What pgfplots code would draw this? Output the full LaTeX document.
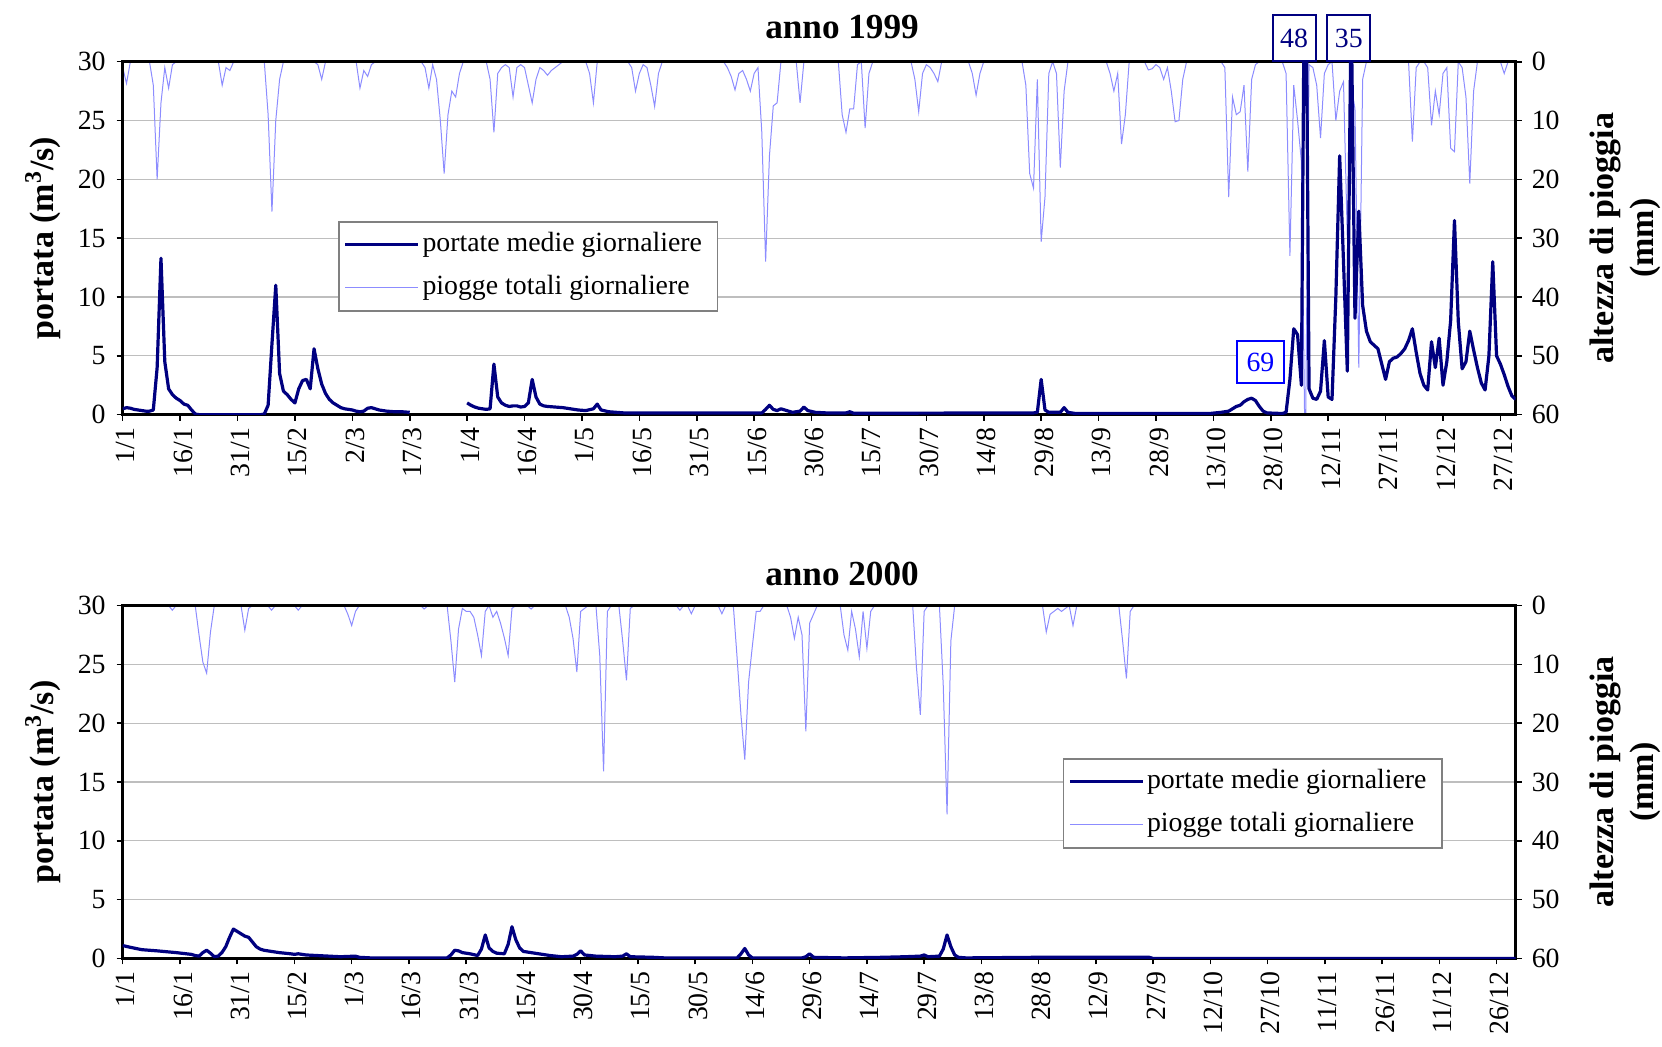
\documentclass[border=0pt]{standalone}
\usepackage{fontspec}
\setmainfont{Liberation Serif}
\usepackage{pgfplots}
\pgfplotsset{compat=1.18}

\definecolor{navy}{RGB}{0,0,128}
\definecolor{rain}{RGB}{140,140,255}
\definecolor{gridc}{RGB}{190,190,190}

\newcommand{\tickfont}{\fontsize{13.9}{16}\selectfont}
\newcommand{\labfont}{\bfseries\fontsize{17}{20}\selectfont}
\newcommand{\titfont}{\bfseries\fontsize{17.6}{20}\selectfont}

\pgfplotsset{
  base/.style={
    scale only axis, width=696.5pt, height=176.5pt,
    xmin=1, xmax=365,
    clip mode=individual,
    tick align=outside,
    major tick length=3pt,
    every tick/.style={black, line width=0.8pt},
    /pgf/number format/assume math mode=true,
    ticklabel style={font=\tickfont},
    axis line style={line width=1.3pt},
  },
  % left axis: daily discharge, also carries the x axis and the frame
  qax/.style={base,
    ymin=0, ymax=30, ytick={0,5,...,30},
    ytick pos=left, xtick pos=bottom,
    yticklabel style={xshift=-2pt},
    xtick={1,16,...,361},
    x tick label style={rotate=90, anchor=east, yshift=-1.5pt},
    unbounded coords=jump,
    legend cell align=left,
    legend image code/.code={\draw[##1] (0pt,0pt) -- (36.5pt,0pt);},
    legend style={draw=gray, line width=0.8pt, fill=white, font=\tickfont,
      inner xsep=2.5pt, inner ysep=2.75pt, row sep=4pt,
      nodes={inner xsep=1.25pt, inner ysep=2pt, text height=10pt, text depth=3.5pt}},
  },
  % right axis: daily rain, reversed
  rax/.style={base,
    axis x line=none, axis y line*=right,
    y dir=reverse, ymin=0, ymax=60, ytick={0,10,...,60},
    yticklabel style={xshift=1.5pt},
    ymajorgrids, grid style={gridc, line width=0.6pt},
  },
  qline/.style={navy, line width=1.6pt, line join=round},
  rline/.style={rain, line width=0.5pt},
}

\begin{document}
\begin{tikzpicture}

% ---------------- anno 1999 ----------------
\begin{axis}[rax, at={(0,0)}, anchor=south west]
\addplot[rline] coordinates {
(1,1)(2,3.7)(3,0)(8,0)(9,4)(10,20)(11,7)(12,1)(13,4.5)(14,0.5)(15,0)
(26,0)(27,4)(28,1)(29,1.5)(30,0)(38,0)(39,9)(40,25.5)(41,10)(42,3)(43,0)
(51,0)(52,0.5)(53,3)(54,0)(62,0)(63,4.5)(64,1.5)(65,2.5)(66,0.5)(67,0)
(79,0)(80,1)(81,4.5)(82,0.5)(83,3)(84,10)(85,19)(86,9)(87,5)(88,6)(89,2)(90,0)
(96,0)(97,3)(98,12)(99,2)(100,1)(101,0.5)(102,1)(103,6)(104,1)(105,0.5)(106,1)
(107,4)(108,7)(109,3)(110,1)(111,1.5)(112,2.3)(113,1.5)(114,1)(115,0.5)(116,0)
(122,0)(123,2)(124,7)(125,0)(133,0)(134,1)(135,5)(136,2)(137,0.5)(138,1)(139,4)(140,7.6)(141,2)(142,0)
(158,0)(159,1)(160,2.5)(161,4.8)(162,2)(163,1.5)(164,3)(165,5)(166,2)(167,1)(168,12)(169,34)(170,16)(171,7.5)(172,7)(173,0)
(177,0)(178,7)(179,0)(188,0)(189,9)(190,12)(191,8)(192,8)(193,0.5)(194,0)(195,11.3)(196,2)(197,0)
(207,0)(208,3)(209,8.5)(210,2)(211,0.5)(212,1)(213,2)(214,3.4)(215,0)
(222,0)(223,2)(224,5.7)(225,2)(226,0)
(236,0)(237,4)(238,19)(239,21.5)(240,3)(241,30.6)(242,23)(243,2)(244,0)(245,2)(246,18)(247,5)(248,0)
(258,0)(259,2)(260,5)(261,2)(262,14)(263,9)(264,0)
(268,0)(269,1.4)(270,1.2)(271,0.5)(272,1)(273,3)(274,1)(275,5)(276,10.2)(277,10)(278,3)(279,0)
(288,0)(289,1)(290,23)(291,6)(292,9)(293,8.5)(294,4)(295,18.7)(296,3)(297,0.5)(298,0)
(304,0)(305,2)(306,33)(307,4)(308,10)(309,17)(310,69)(311,0.5)(312,1)(313,4)(314,13)(315,2)(316,0.5)
(317,0)(318,10)(319,5)(320,3.4)(321,30)(322,4)(323,8)(324,52)(325,3)(326,0)
(337,0)(338,13.6)(339,1)(340,0)(341,0)(342,1)(343,10.8)(344,5)(345,9)(346,2)(347,1)(348,14.7)(349,15.3)(350,0)
(351,1)(352,6)(353,20.7)(354,5)(355,0)(361,0)(362,2)(363,0)(365,0)
};
\node[rotate=90, align=center, font=\labfont] at ([xshift=54.75pt]rel axis cs:1,0.5) {altezza di pioggia\\(mm)};
\end{axis}

\begin{axis}[qax, at={(0,0)}, anchor=south west,
  xticklabels={1/1,16/1,31/1,15/2,2/3,17/3,1/4,16/4,1/5,16/5,31/5,15/6,30/6,15/7,30/7,14/8,29/8,13/9,28/9,13/10,28/10,12/11,27/11,12/12,27/12},
  legend style={at={(rel axis cs:0.1546,0.5487)}, anchor=north west}]
\addplot[qline] coordinates {
(1,0.5)(2,0.6)(3,0.55)(4,0.45)(5,0.4)(6,0.35)(7,0.3)(8,0.3)(9,0.4)(10,4.0)(11,13.3)(12,4.5)(13,2.2)(14,1.7)(15,1.4)
(16,1.2)(17,0.9)(18,0.8)(19,0.4)(20,0.05)(21,0)(37,0)(38,0.05)(39,0.8)(40,6.0)(41,11.0)(42,3.5)(43,2.0)(44,1.7)
(45,1.3)(46,1.0)(47,2.2)(48,2.9)(49,3.0)(50,2.2)(51,5.6)(52,3.9)(53,2.6)(54,1.8)(55,1.3)(56,1.0)(57,0.8)(58,0.6)
(59,0.5)(60,0.45)(61,0.4)(62,0.3)(63,0.25)(64,0.3)(65,0.55)(66,0.6)(67,0.5)(68,0.4)(69,0.35)(70,0.3)(72,0.25)
(74,0.25)(76,0.2)(77,nan)
(91,1.0)(92,0.8)(93,0.65)(94,0.55)(95,0.5)(96,0.45)(97,0.5)(98,4.3)(99,1.5)(100,1.0)(101,0.8)(102,0.7)(103,0.75)
(104,0.75)(105,0.65)(106,0.7)(107,1.0)(108,3.0)(109,1.5)(110,0.9)(111,0.75)(112,0.7)(114,0.65)(116,0.6)(118,0.5)
(120,0.4)(122,0.35)(124,0.5)(125,0.9)(126,0.4)(128,0.25)(132,0.15)(168,0.15)(169,0.45)(170,0.8)(171,0.45)
(172,0.35)(173,0.5)(174,0.4)(175,0.3)(176,0.2)(178,0.3)(179,0.65)(180,0.35)(182,0.2)(185,0.15)(190,0.15)
(191,0.25)(192,0.12)(239,0.15)(240,0.2)(241,3.0)(242,0.4)(243,0.2)(246,0.2)(247,0.6)(248,0.2)(250,0.1)
(285,0.1)(288,0.2)(290,0.3)(291,0.5)(292,0.7)(293,0.8)(294,1.1)(295,1.3)(296,1.4)(297,1.2)(298,0.7)(299,0.3)
(300,0.15)(304,0.1)(305,0.2)(306,3.0)(307,7.3)(308,6.8)(309,2.5)(310,48)(311,2.2)(312,1.4)(313,1.3)(314,2.0)
(315,6.3)(316,1.5)(317,1.3)(318,10.0)(319,22.0)(320,13.0)(321,3.7)(322,35)(323,8.2)(324,17.3)(325,9.3)
(326,7.1)(327,6.2)(328,5.9)(329,5.6)(330,4.3)(331,3.0)(332,4.5)(333,4.8)(334,4.9)(335,5.2)(336,5.6)(337,6.3)
(338,7.3)(339,5.3)(340,3.5)(341,2.5)(342,2.1)(343,6.2)(344,4.0)(345,6.5)(346,2.5)(347,4.5)(348,8.0)(349,16.5)
(350,7.9)(351,3.9)(352,4.5)(353,7.1)(354,5.5)(355,4.0)(356,2.7)(357,2.1)(358,5.0)(359,13.0)(360,5.0)(361,4.3)
(362,3.4)(363,2.4)(364,1.6)(365,1.3)
};
\addlegendentry{portate medie giornaliere\kern4pt}
\addlegendimage{rline}
\addlegendentry{piogge totali giornaliere}
\node[font=\titfont] at ([yshift=17.1pt]rel axis cs:0.5164,1) {anno 1999};
\node[rotate=90, font=\labfont] at ([xshift=-39.85pt]rel axis cs:0,0.5) {portata (m\textsuperscript{3}/s)};
\node[draw=navy, line width=1pt, text=navy, fill=white, minimum width=21.5pt, minimum height=23pt, inner sep=1pt, font=\tickfont] at (axis cs:307.07,32.01) {48};
\node[draw=navy, line width=1pt, text=navy, fill=white, minimum width=21.5pt, minimum height=23pt, inner sep=1pt, font=\tickfont] at (axis cs:321.4,32.01) {35};
\node[draw=blue, line width=1pt, text=blue, fill=white, minimum width=23.5pt, minimum height=21pt, inner sep=1pt, font=\tickfont] at (axis cs:298.3,4.48) {69};
\end{axis}

% ---------------- anno 2000 ----------------
\begin{axis}[rax, xmax=366, at={(0,-271.9pt)}, anchor=south west]
\addplot[rline] coordinates {
(1,0)(13,0)(14,0.8)(15,0)(20,0)(21,5)(22,9.6)(23,11.5)(24,4.5)(25,0)(32,0)(33,4.2)(34,0.5)(35,0)
(39,0)(40,0.8)(41,0)(46,0)(47,0.8)(48,0)(59,0)(60,1.5)(61,3.4)(62,1)(63,0)(79,0)(80,0.6)(81,0)
(86,0)(87,6)(88,13)(89,4)(90,0.5)(91,1)(92,1)(93,2)(94,5)(95,8.5)(96,1)(97,0)(98,2)(99,1)(100,3)(101,5.5)(102,8.5)(103,0.5)(104,0)
(107,0)(108,0.6)(109,0)(117,0)(118,2)(119,5.6)(120,11.3)(121,1)(122,0.5)(123,0)
(125,0)(126,8.5)(127,28.2)(128,1)(129,0)(131,0)(132,6)(133,12.7)(134,0.5)(135,0)
(146,0)(147,0.8)(148,0)(149,0)(150,1.4)(151,0)(157,0)(158,1.4)(159,0)
(161,0)(162,9)(163,18.6)(164,26.2)(165,13)(166,6.8)(167,1)(168,1)(169,0)
(175,0)(176,2)(177,5.6)(178,2)(179,5)(180,21.4)(181,3)(182,1.5)(183,0)
(189,0)(190,5)(191,7.6)(192,1)(193,4)(194,8.7)(195,1)(196,7.3)(197,1)(198,0)
(208,0)(209,10.7)(210,18.6)(211,1)(212,0)(215,0)(216,13.5)(217,35.5)(218,6)(219,0)
(242,0)(243,4.5)(244,1.5)(245,1)(246,0.5)(247,1)(248,0.5)(249,0)(250,3.4)(251,0)
(262,0)(263,6)(264,12.4)(265,1)(266,0)(366,0)
};
\node[rotate=90, align=center, font=\labfont] at ([xshift=54.75pt]rel axis cs:1,0.5) {altezza di pioggia\\(mm)};
\end{axis}

\begin{axis}[qax, xmax=366, at={(0,-271.9pt)}, anchor=south west,
  xticklabels={1/1,16/1,31/1,15/2,1/3,16/3,31/3,15/4,30/4,15/5,30/5,14/6,29/6,14/7,29/7,13/8,28/8,12/9,27/9,12/10,27/10,11/11,26/11,11/12,26/12},
  legend style={at={(rel axis cs:0.6747,0.568)}, anchor=north west}]
\addplot[qline] coordinates {
(1,1.1)(3,0.95)(6,0.75)(10,0.65)(15,0.5)(19,0.35)(20,0.25)(21,0.2)(22,0.5)(23,0.7)(24,0.45)(25,0.15)(26,0.2)
(27,0.5)(28,1.0)(29,1.8)(30,2.5)(31,2.3)(32,2.1)(33,1.9)(34,1.8)(35,1.4)(36,1.0)(37,0.8)(38,0.7)(40,0.6)(42,0.5)
(45,0.4)(46,0.35)(47,0.4)(49,0.3)(52,0.25)(55,0.2)(58,0.15)(62,0.2)(63,0.1)(66,0.05)(86,0.05)(87,0.3)(88,0.7)
(89,0.65)(90,0.5)(92,0.4)(94,0.25)(95,0.8)(96,2.0)(97,0.9)(98,0.6)(99,0.45)(101,0.4)(102,1.2)(103,2.7)(104,1.6)
(105,0.9)(106,0.6)(108,0.5)(111,0.35)(113,0.25)(116,0.15)(119,0.2)(120,0.35)(121,0.65)(122,0.3)(125,0.2)
(130,0.15)(132,0.2)(133,0.4)(134,0.15)(140,0.1)(143,0.05)(162,0.05)(163,0.4)(164,0.85)(165,0.3)(166,0.05)
(179,0.05)(180,0.15)(181,0.4)(182,0.1)(190,0.05)(200,0.1)(206,0.15)(210,0.2)(211,0.3)(212,0.15)(215,0.2)
(216,0.8)(217,2.0)(218,1.0)(219,0.3)(220,0.1)(222,0.05)(240,0.1)(255,0.1)(270,0.1)(271,0)(366,0)
};
\addlegendentry{portate medie giornaliere\kern4pt}
\addlegendimage{rline}
\addlegendentry{piogge totali giornaliere}
\node[font=\titfont] at ([yshift=16pt]rel axis cs:0.5164,1) {anno 2000};
\node[rotate=90, font=\labfont] at ([xshift=-39.85pt]rel axis cs:0,0.5) {portata (m\textsuperscript{3}/s)};
\end{axis}

\pgfresetboundingbox
\path[use as bounding box] (-61.35pt,-316.15pt) rectangle (769.65pt,207.35pt);
\end{tikzpicture}
\end{document}
